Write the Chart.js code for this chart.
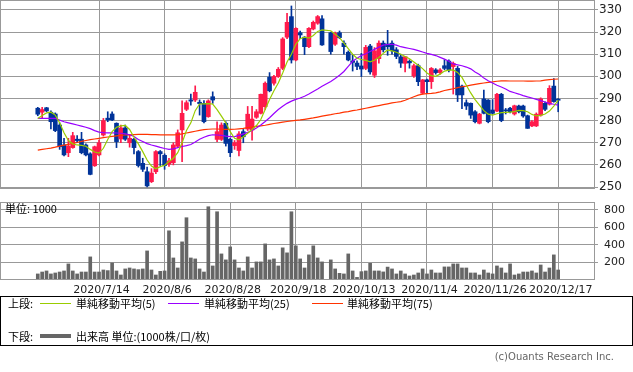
<!DOCTYPE html>
<html>
<head>
<meta charset="utf-8">
<script src="https://cdn.jsdelivr.net/npm/chart.js@4.4.1/dist/chart.umd.min.js"></script>
<style>
  body { margin: 0; width: 633px; height: 372px; background: #fff; position: relative; overflow: hidden; }
  canvas { position: absolute; left: 0; }
  #price { top: 0; }
  #volume { top: 190px; }
  .box { position: absolute; left: 0; top: 296px; width: 631px; height: 48px; border: 1px solid #000; }
  .t { position: absolute; font-size: 11px; line-height: 13px; color: #000; white-space: nowrap;
       font-family: "Noto Sans CJK JP", "DejaVu Sans", sans-serif; }
  .ln { position: absolute; height: 1px; }
  .copy { position: absolute; right: 19px; top: 351px; font: 10px "DejaVu Sans", sans-serif; color: #666; }
</style>
</head>
<body>
<canvas id="price" width="633" height="190"></canvas>
<canvas id="volume" width="633" height="110"></canvas>

<div class="box"></div>
<div class="t" style="left:8px;top:297px">上段:</div>
<div class="ln" style="left:40px;top:303px;width:31px;background:#99cc00"></div>
<div class="t" style="left:76px;top:297px">単純移動平均(5)</div>
<div class="ln" style="left:168px;top:303px;width:31px;background:#9900ff"></div>
<div class="t" style="left:204px;top:297px">単純移動平均(25)</div>
<div class="ln" style="left:312px;top:303px;width:31px;background:#ff3300"></div>
<div class="t" style="left:347px;top:297px">単純移動平均(75)</div>
<div class="t" style="left:8px;top:330px">下段:</div>
<div class="ln" style="left:40px;top:334px;width:31px;height:4px;background:#666"></div>
<div class="t" style="left:76px;top:330px">出来高 単位:(1000株/口/枚)</div>
<div class="copy">(c)Ouants Research Inc.</div>

<script>
// daily values, index 0 = 2020/6/24 ... index 119 = 2020/12/17 (index 66 = 10/1, no trading)
const opens = [285.6,283.8,285.8,283.8,283.0,278.0,269.0,265.5,267.8,271.6,
  271.6,269.0,265.0,259.6,264.5,273.5,281.1,283.0,278.8,271.7,
  276.7,270.0,271.6,266.0,260.7,256.9,252.4,256.9,266.0,264.3,
  260.3,261.0,268.4,275.8,285.1,289.4,289.3,288.3,287.8,281.8,
  290.8,271.5,271.5,278.8,271.6,268.7,266.5,275.0,276.2,275.8,
  281.5,283.3,286.3,299.6,296.9,299.9,303.6,317.7,327.0,307.4,
  319.7,317.7,313.4,321.4,324.0,326.0,null,319.7,314.5,319.7,
  315.0,310.9,307.0,306.0,304.7,303.6,313.7,300.5,308.0,315.0,
  314.6,315.0,312.0,308.8,305.9,306.8,300.2,304.8,292.4,298.4,
  297.6,302.9,301.7,304.8,306.9,304.4,303.6,295.6,288.1,287.8,
  284.0,278.8,289.8,289.3,284.8,284.3,291.9,284.8,285.6,283.0,
  286.6,286.6,282.2,277.6,277.6,282.5,287.8,287.4,295.6,289.5];
const highs = [286.0,286.0,286.0,284.4,283.5,279.0,272.0,272.0,274.7,273.2,
  274.7,269.5,265.5,268.5,271.2,281.0,284.0,284.0,279.0,278.0,
  278.0,273.5,272.0,266.5,263.0,259.0,258.3,266.5,266.5,265.0,
  263.0,270.0,275.8,288.9,289.0,292.0,295.7,289.4,289.0,289.4,
  293.0,279.5,279.0,279.5,272.0,271.0,275.0,276.0,286.4,286.4,
  285.0,292.0,297.5,301.7,300.5,304.0,317.5,328.5,331.8,322.0,
  320.5,318.0,322.0,325.0,327.5,327.5,null,320.0,320.0,320.5,
  316.0,311.5,309.7,307.0,310.4,314.0,314.5,313.0,316.0,316.0,
  320.8,316.0,313.0,310.0,309.0,307.5,305.5,305.5,298.6,298.8,
  304.0,303.5,303.5,307.5,307.5,306.5,304.5,296.0,289.4,288.0,
  284.5,283.3,293.8,289.5,289.5,292.3,292.3,285.5,286.0,287.0,
  287.0,287.0,282.5,280.0,283.5,290.3,288.5,295.8,299.0,290.0];
const lows = [282.2,281.0,284.0,276.3,275.0,267.0,264.0,263.7,267.5,270.0,
  265.0,264.0,255.5,259.3,264.0,273.0,279.5,280.0,267.8,270.0,
  271.0,268.0,265.0,259.0,257.0,250.0,252.0,256.0,259.7,258.0,
  259.3,260.0,268.0,261.4,284.5,287.0,288.6,282.5,279.0,281.5,
  287.8,270.5,271.0,268.5,263.7,267.0,264.0,270.0,275.5,271.2,
  281.0,283.0,285.0,293.0,296.0,299.5,303.0,317.0,306.0,307.0,
  317.0,309.8,313.0,321.0,323.5,314.0,null,310.0,314.0,317.0,
  310.0,307.0,302.4,303.0,299.9,303.0,301.0,299.5,306.0,311.0,
  309.5,310.0,308.0,304.0,302.0,303.7,299.5,295.8,292.0,292.4,
  294.5,301.0,301.0,303.0,302.0,292.0,288.6,285.4,285.0,281.0,
  279.0,278.5,283.0,279.0,283.0,284.0,279.5,283.0,283.5,282.5,
  283.5,281.5,276.5,277.3,277.3,282.0,284.5,287.0,288.3,284.0];
const closes = [282.9,285.0,284.4,279.5,275.5,268.2,264.5,268.5,273.2,271.0,
  265.5,264.5,255.7,268.2,270.0,280.0,280.3,280.3,270.5,276.7,
  271.6,272.0,267.8,259.7,258.0,250.5,256.3,266.0,265.0,259.7,
  261.8,269.0,274.5,283.3,288.1,288.8,292.8,287.7,279.5,288.9,
  289.3,275.0,278.0,269.7,265.5,270.0,274.0,272.7,282.9,280.7,
  284.0,291.9,296.9,293.5,299.9,303.2,316.9,324.4,307.4,321.7,
  318.7,313.4,321.7,324.4,327.0,314.2,null,311.2,319.5,317.5,
  313.4,307.4,306.3,304.5,303.3,313.1,302.0,311.5,315.0,312.0,
  313.4,311.5,309.0,306.0,308.9,306.1,304.8,297.6,298.4,297.6,
  303.6,301.7,302.9,303.6,302.9,305.9,291.6,291.6,286.6,282.5,
  279.5,282.9,283.3,279.5,283.3,291.9,280.0,284.4,284.0,286.7,
  284.0,282.1,276.5,279.5,282.9,289.8,285.1,294.6,288.6,289.2];
const volumes = [69,91,103,69,80,91,103,183,103,69,
  91,91,263,91,91,114,107,194,103,57,
  126,137,126,118,126,331,114,57,99,103,
  560,251,137,434,709,251,240,126,91,834,
  160,777,297,229,377,229,137,103,263,137,
  206,206,411,229,240,160,366,309,777,389,
  240,137,286,389,251,206,null,229,126,76,
  69,297,103,30,95,103,190,103,103,92,
  147,126,69,103,69,46,57,80,126,69,
  114,80,80,149,149,183,183,137,137,80,
  80,57,114,80,69,160,137,80,183,57,
  69,91,91,103,80,171,91,137,286,114];
const ma5 = [281.0,282.3,283.5,283.8,282.5,279.0,274.5,271.0,269.5,269.0,
  268.8,268.4,267.0,265.8,265.3,267.5,271.5,275.0,277.0,277.6,
  277.8,276.0,272.5,269.5,266.0,262.2,259.5,258.2,259.2,259.8,
  261.5,263.0,265.5,270.0,275.5,279.0,284.5,287.5,287.6,287.7,
  287.5,285.0,282.0,279.0,275.0,272.0,271.3,272.7,274.3,276.0,
  277.8,280.5,285.0,289.5,293.5,297.0,301.5,306.5,310.0,314.5,
  317.0,317.7,317.3,318.5,320.3,321.0,null,320.6,319.0,317.5,
  315.0,312.5,310.0,308.2,307.6,307.2,306.6,307.3,308.5,310.4,
  311.9,311.5,310.9,310.0,309.0,308.0,306.5,305.0,303.5,301.5,
  300.3,300.0,301.0,302.4,302.8,302.9,301.8,299.5,296.0,292.5,
  289.5,287.0,284.5,282.9,282.5,283.1,283.6,283.7,283.8,284.1,
  284.6,284.5,284.0,282.8,282.1,282.4,283.0,284.3,286.5,289.3];
const ma25 = [281.0,281.0,281.0,281.0,281.0,280.2,279.5,279.0,278.5,278.0,
  277.5,277.0,276.4,275.5,274.8,274.6,274.5,274.5,274.4,274.3,
  274.0,273.6,272.8,271.5,270.6,269.6,269.0,268.5,267.9,267.4,
  267.0,267.2,267.8,268.3,268.7,269.2,270.3,271.6,272.5,273.2,
  273.6,273.5,273.3,273.0,272.8,272.8,273.3,274.0,274.7,275.5,
  276.7,278.0,279.6,281.3,283.2,285.0,286.5,287.8,288.8,289.6,
  290.2,291.0,292.0,293.2,294.3,295.5,null,297.7,299.0,300.5,
  302.2,304.5,306.8,308.2,309.4,310.2,311.2,312.2,313.2,314.1,
  314.4,314.5,314.1,313.4,313.0,312.6,312.2,311.6,311.0,310.4,
  309.9,309.4,308.6,307.8,306.8,305.6,305.2,304.8,304.2,303.4,
  302.0,300.8,299.2,298.0,297.0,296.0,295.2,294.3,293.2,292.6,
  292.0,291.3,290.7,290.2,289.6,289.0,288.4,287.8,287.4,287.0];
const ma75 = [266.7,267.0,267.3,267.6,268.0,268.5,268.9,269.3,269.7,270.1,
  270.6,271.0,271.4,271.7,272.0,272.3,272.6,272.9,273.1,273.3,
  273.5,273.6,273.7,273.8,273.8,273.8,273.7,273.7,273.6,273.6,
  273.6,273.6,273.7,274.0,274.4,274.8,275.2,275.6,275.9,276.1,
  276.2,276.2,276.1,276.0,276.0,276.1,276.3,276.5,276.8,277.1,
  277.4,277.6,277.9,278.3,278.7,279.0,279.3,279.6,279.9,280.1,
  280.3,280.6,280.9,281.2,281.6,282.0,null,282.7,283.1,283.4,
  283.8,284.1,284.5,284.8,285.2,285.6,286.0,286.4,286.8,287.2,
  287.6,288.0,288.3,288.6,289.2,290.0,290.8,291.5,292.0,292.2,
  292.3,292.5,293.0,293.6,294.0,294.4,294.9,295.3,295.6,296.0,
  296.4,296.7,297.0,297.3,297.5,297.8,298.0,298.0,297.9,297.9,
  297.9,297.9,297.8,297.8,297.9,298.0,298.3,298.5,298.7,298.8];

const tickDays = [14, 29, 44, 59, 74, 89, 104, 119];
const tickLabels = ['2020/7/14', '2020/8/6', '2020/8/28', '2020/9/18', '2020/10/13', '2020/11/4', '2020/11/26', '2020/12/17'];
const priceTicks = [250, 260, 270, 280, 290, 300, 310, 320, 330];
const volumeTicks = [200, 400, 600, 800];

const UP = '#ff1a4b';
const DOWN = '#003399';
const GRID = '#999';
const X_MIN = -8.64, X_MAX = 127.42;

Chart.defaults.font.family = '"DejaVu Sans", sans-serif';
Chart.defaults.color = '#222';

const days = closes.map((c, i) => i).filter(i => closes[i] != null);
const candleColors = days.map(i => closes[i] >= opens[i] ? UP : DOWN);
const series = arr => days.map(i => ({ x: i, y: arr[i] }));

// no label overhang padding, so the plot area is exactly where we put it
const noPad = s => { s.paddingTop = 0; s.paddingBottom = 0; s.paddingLeft = 0; s.paddingRight = 0; };

const frame = {
  id: 'frame',
  afterDraw(chart) {
    const { ctx, chartArea: a } = chart;
    ctx.save();
    ctx.strokeStyle = GRID;
    ctx.lineWidth = 1;
    ctx.strokeRect(0.5, Math.round(a.top) + 0.5, Math.round(a.right) - 1, Math.round(a.bottom - a.top) - 1);
    ctx.restore();
  }
};

const xAxis = (showLabels) => ({
  type: 'linear',
  min: X_MIN,
  max: X_MAX,
  offset: false,
  afterBuildTicks: s => { s.ticks = tickDays.map(v => ({ value: v })); },
  afterFit: s => { s.height = showLabels ? 20 : 0; noPad(s); },
  grid: { color: GRID, offset: false, drawTicks: false },
  border: { display: false },
  ticks: {
    display: showLabels,
    autoSkip: false,
    maxRotation: 0,
    padding: 4,
    labelOffset: 2.5,
    font: { size: 11 },
    callback: v => tickLabels[tickDays.indexOf(v)]
  }
});

new Chart(document.getElementById('price'), {
  type: 'bar',
  data: {
    datasets: [
      { type: 'line', data: series(ma5), borderColor: '#99cc00', borderWidth: 1.2, pointRadius: 0, order: 0 },
      { type: 'line', data: series(ma25), borderColor: '#9900ff', borderWidth: 1.2, pointRadius: 0, order: 0 },
      { type: 'line', data: series(ma75), borderColor: '#ff3300', borderWidth: 1.2, pointRadius: 0, order: 0 },
      { data: days.map(i => ({ x: i, y: [opens[i], closes[i]] })), backgroundColor: candleColors,
        barThickness: 4, minBarLength: 1, grouped: false, order: 1 },
      { data: days.map(i => ({ x: i, y: [lows[i], highs[i]] })), backgroundColor: candleColors,
        barThickness: 1, grouped: false, order: 2 }
    ]
  },
  options: {
    responsive: false,
    animation: false,
    layout: { padding: { left: 0, top: 0, right: 0, bottom: 1 } },
    plugins: { legend: { display: false }, tooltip: { enabled: false } },
    scales: {
      x: xAxis(false),
      y: {
        position: 'right',
        min: 249.1,
        max: 334.5,
        afterBuildTicks: s => { s.ticks = priceTicks.map(v => ({ value: v })); },
        afterFit: s => { s.width = 38; noPad(s); },
        grid: { color: GRID, tickLength: 3 },
        border: { display: false },
        ticks: { padding: 1, font: { size: 12 } }
      }
    }
  },
  plugins: [frame]
});

const unitLabel = {
  id: 'unitLabel',
  afterDraw(chart) {
    const { ctx } = chart;
    ctx.save();
    ctx.fillStyle = '#000';
    ctx.font = '11px "Noto Sans CJK JP", "DejaVu Sans"';
    ctx.textBaseline = 'middle';
    ctx.fillText('単位: 1000', 5, 19);
    ctx.restore();
  }
};

new Chart(document.getElementById('volume'), {
  type: 'bar',
  data: {
    datasets: [{
      data: series(volumes),
      backgroundColor: '#666',
      barThickness: 3
    }]
  },
  options: {
    responsive: false,
    animation: false,
    layout: { padding: { left: 0, top: 12, right: 0, bottom: 0 } },
    plugins: { legend: { display: false }, tooltip: { enabled: false } },
    scales: {
      x: xAxis(true),
      y: {
        position: 'right',
        min: 0,
        max: 888,
        afterBuildTicks: s => { s.ticks = volumeTicks.map(v => ({ value: v })); },
        afterFit: s => { s.width = 38; noPad(s); },
        grid: { color: GRID, tickLength: 3 },
        border: { display: false },
        ticks: { padding: 6, font: { size: 11 } }
      }
    }
  },
  plugins: [frame, unitLabel]
});
</script>
</body>
</html>
